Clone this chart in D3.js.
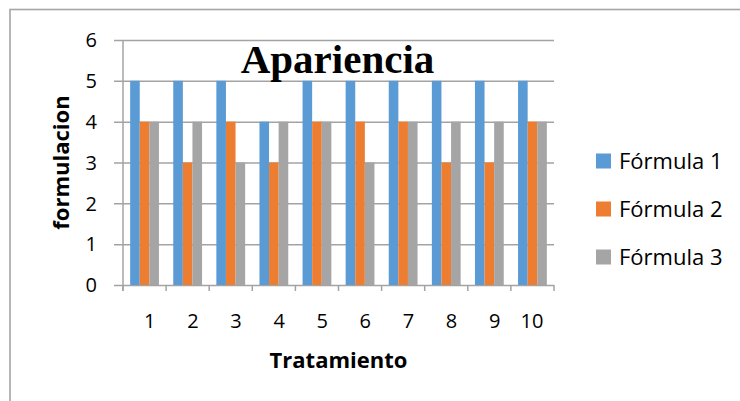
<!DOCTYPE html>
<html>
<head>
<meta charset="utf-8">
<script src="https://cdn.jsdelivr.net/npm/d3@7/dist/d3.min.js"></script>
<style>
  html, body { margin: 0; padding: 0; background: #fff; }
  svg { display: block; }
</style>
</head>
<body>
<svg id="chart" width="740" height="401"></svg>
<script>
// Apariencia scores per treatment, one array per formula
const categories = ["1", "2", "3", "4", "5", "6", "7", "8", "9", "10"];
const seriesNames = ["Fórmula 1", "Fórmula 2", "Fórmula 3"];
const formula1 = [5, 5, 5, 4, 5, 5, 5, 5, 5, 5];
const formula2 = [4, 3, 4, 3, 4, 4, 4, 3, 3, 4];
const formula3 = [4, 4, 3, 4, 4, 3, 4, 4, 4, 4];
const yTicks = [0, 1, 2, 3, 4, 5, 6];
const colors = ["#5B9BD5", "#ED7D31", "#A5A5A5"];

const seriesValues = [formula1, formula2, formula3];
const rows = categories.map((c, i) => ({
  cat: c,
  vals: seriesValues.map((s, k) => ({ key: seriesNames[k], v: s[i], k }))
}));

const svg = d3.select("#chart");
const labelFont = "'Open Sans', Lato, sans-serif";
const gridColor = "#A3A3A3";

// outer chart frame (runs off the right and bottom edges)
svg.append("rect")
  .attr("x", 10).attr("y", 9.5)
  .attr("width", 760).attr("height", 420)
  .attr("fill", "none")
  .attr("stroke", "#A6A6A6")
  .attr("stroke-width", 1.6);

const plot = { left: 123, right: 554, top: 40, bottom: 285 };

const x = d3.scaleBand().domain(categories).range([plot.left, plot.right]);
const xInner = d3.scaleBand().domain(seriesNames)
  .range([0, x.bandwidth()]).paddingInner(0).paddingOuter(0.745);
const y = d3.scaleLinear().domain([0, 6]).range([plot.bottom, plot.top]);

// horizontal gridlines with short outside ticks
const yAxis = d3.axisLeft(y).tickValues(yTicks)
  .tickSize(-(plot.right - plot.left)).tickFormat("");
const gy = svg.append("g").attr("transform", `translate(${plot.left},0)`).call(yAxis);
gy.select(".domain").remove();
gy.selectAll(".tick line")
  .attr("x1", -9)
  .attr("stroke", gridColor).attr("stroke-width", 1.5);

// bars
const groups = svg.append("g").selectAll("g")
  .data(rows).join("g")
  .attr("transform", d => `translate(${x(d.cat)},0)`);
groups.selectAll("rect")
  .data(d => d.vals).join("rect")
  .attr("x", d => xInner(d.key))
  .attr("width", xInner.bandwidth())
  .attr("y", d => y(d.v))
  .attr("height", d => y(0) - y(d.v))
  .attr("fill", d => colors[d.k]);

// vertical axis line
svg.append("line")
  .attr("x1", plot.left).attr("x2", plot.left)
  .attr("y1", y(6)).attr("y2", y(0) + 6)
  .attr("stroke", gridColor).attr("stroke-width", 1.5);

// category boundary ticks along the bottom
const boundaries = categories.map(c => x(c)).concat([plot.right]);
svg.append("g").selectAll("line")
  .data(boundaries).join("line")
  .attr("x1", d => d).attr("x2", d => d)
  .attr("y1", y(0)).attr("y2", y(0) + 6)
  .attr("stroke", gridColor).attr("stroke-width", 1.5);

// y tick labels
svg.append("g").selectAll("text")
  .data(yTicks).join("text")
  .attr("x", 97).attr("y", d => y(d))
  .attr("dy", "0.36em")
  .attr("text-anchor", "end")
  .attr("font-family", labelFont).attr("font-size", 20)
  .attr("fill", "#000")
  .text(d => d);

// x tick labels
svg.append("g").selectAll("text")
  .data(categories).join("text")
  .attr("x", d => x(d) + x.bandwidth() / 2 + 11)
  .attr("y", 328)
  .attr("text-anchor", "end")
  .attr("font-family", labelFont).attr("font-size", 20)
  .attr("fill", "#000")
  .text(d => d);

// axis titles
svg.append("text")
  .attr("x", (plot.left + plot.right) / 2).attr("y", 368)
  .attr("text-anchor", "middle")
  .attr("font-family", labelFont).attr("font-size", 22).attr("font-weight", "bold")
  .text("Tratamiento");

svg.append("text")
  .attr("transform", `translate(69,${(plot.top + plot.bottom) / 2}) rotate(-90)`)
  .attr("text-anchor", "middle")
  .attr("font-family", labelFont).attr("font-size", 22).attr("font-weight", "bold")
  .text("formulacion");

// chart title
svg.append("text")
  .attr("x", 337.5).attr("y", 72.5)
  .attr("text-anchor", "middle")
  .attr("font-family", "'Liberation Serif', 'Times New Roman', serif")
  .attr("font-size", 41).attr("font-weight", "bold")
  .text("Apariencia");

// legend
const legend = svg.append("g").selectAll("g")
  .data(seriesNames).join("g")
  .attr("transform", (d, i) => `translate(596,${161 + i * 48})`);
legend.append("rect")
  .attr("x", 0).attr("y", -7.5)
  .attr("width", 15).attr("height", 15)
  .attr("fill", (d, i) => colors[i]);
legend.append("text")
  .attr("x", 23).attr("y", 0).attr("dy", "0.36em")
  .attr("font-family", labelFont).attr("font-size", 22)
  .attr("fill", "#000")
  .text(d => d);
</script>
</body>
</html>
